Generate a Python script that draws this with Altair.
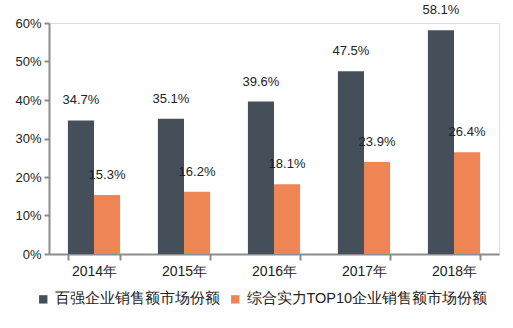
import altair as alt
import pandas as pd

years = ["2014年", "2015年", "2016年", "2017年", "2018年"]
series = ["百强企业销售额市场份额", "综合实力TOP10企业销售额市场份额"]
top100 = [34.7, 35.1, 39.6, 47.5, 58.1]
top10 = [15.3, 16.2, 18.1, 23.9, 26.4]
colors = ["#454f5a", "#ef8555"]

rows = []
for y, a, b in zip(years, top100, top10):
    rows.append({"year": y, "series": series[0], "value": a / 100, "label": f"{a:.1f}%"})
    rows.append({"year": y, "series": series[1], "value": b / 100, "label": f"{b:.1f}%"})
df = pd.DataFrame(rows)

font = "Liberation Sans"

x = alt.X("year:N", sort=years, title=None,
          scale=alt.Scale(paddingInner=0.42, paddingOuter=0.21),
          axis=alt.Axis(labelAngle=0, labelFontSize=14, labelColor="#222222", labelFont=font,
                        domainColor="#8c8c8c", domainWidth=2, tickColor="#8c8c8c", tickWidth=2,
                        tickSize=6, tickBand="extent", labelPadding=4))
y = alt.Y("value:Q", title=None,
          scale=alt.Scale(domain=[0, 0.6]),
          axis=alt.Axis(format=".0%", values=[0, 0.1, 0.2, 0.3, 0.4, 0.5, 0.6],
                        labelOverlap=False, tickCount=7,
                        labelFontSize=13, labelColor="#222222", labelFont=font,
                        domainColor="#8c8c8c", domainWidth=2, tickColor="#8c8c8c",
                        tickWidth=2, tickSize=5, grid=False, labelPadding=3))
xo = alt.XOffset("series:N", sort=series)

bars = alt.Chart(df).mark_bar().encode(
    x=x, y=y, xOffset=xo,
    color=alt.Color("series:N", sort=series,
                    scale=alt.Scale(domain=series, range=colors),
                    legend=alt.Legend(title=None, orient="none", legendX=-13, legendY=269,
                                      direction="horizontal", symbolType="square",
                                      symbolSize=70, labelFontSize=14.5, labelFont=font,
                                      labelColor="#222222", columnPadding=8, labelLimit=0,
                                      symbolStrokeWidth=0)),
)

labels = alt.Chart(df).mark_text(baseline="middle", dy=-20, fontSize=13, font=font,
                                 color="#222222").encode(
    x=x, y=y, xOffset=xo, text="label:N")

chart = alt.layer(bars, labels).properties(
    width=450, height=231,
    padding={"left": 49, "top": 23, "right": 14, "bottom": 74},
    autosize=alt.AutoSizeParams(type="none"),
).configure_view(stroke=None).configure(background="white")

chart.save("out.html", embed_options={"renderer": "svg", "actions": False})
